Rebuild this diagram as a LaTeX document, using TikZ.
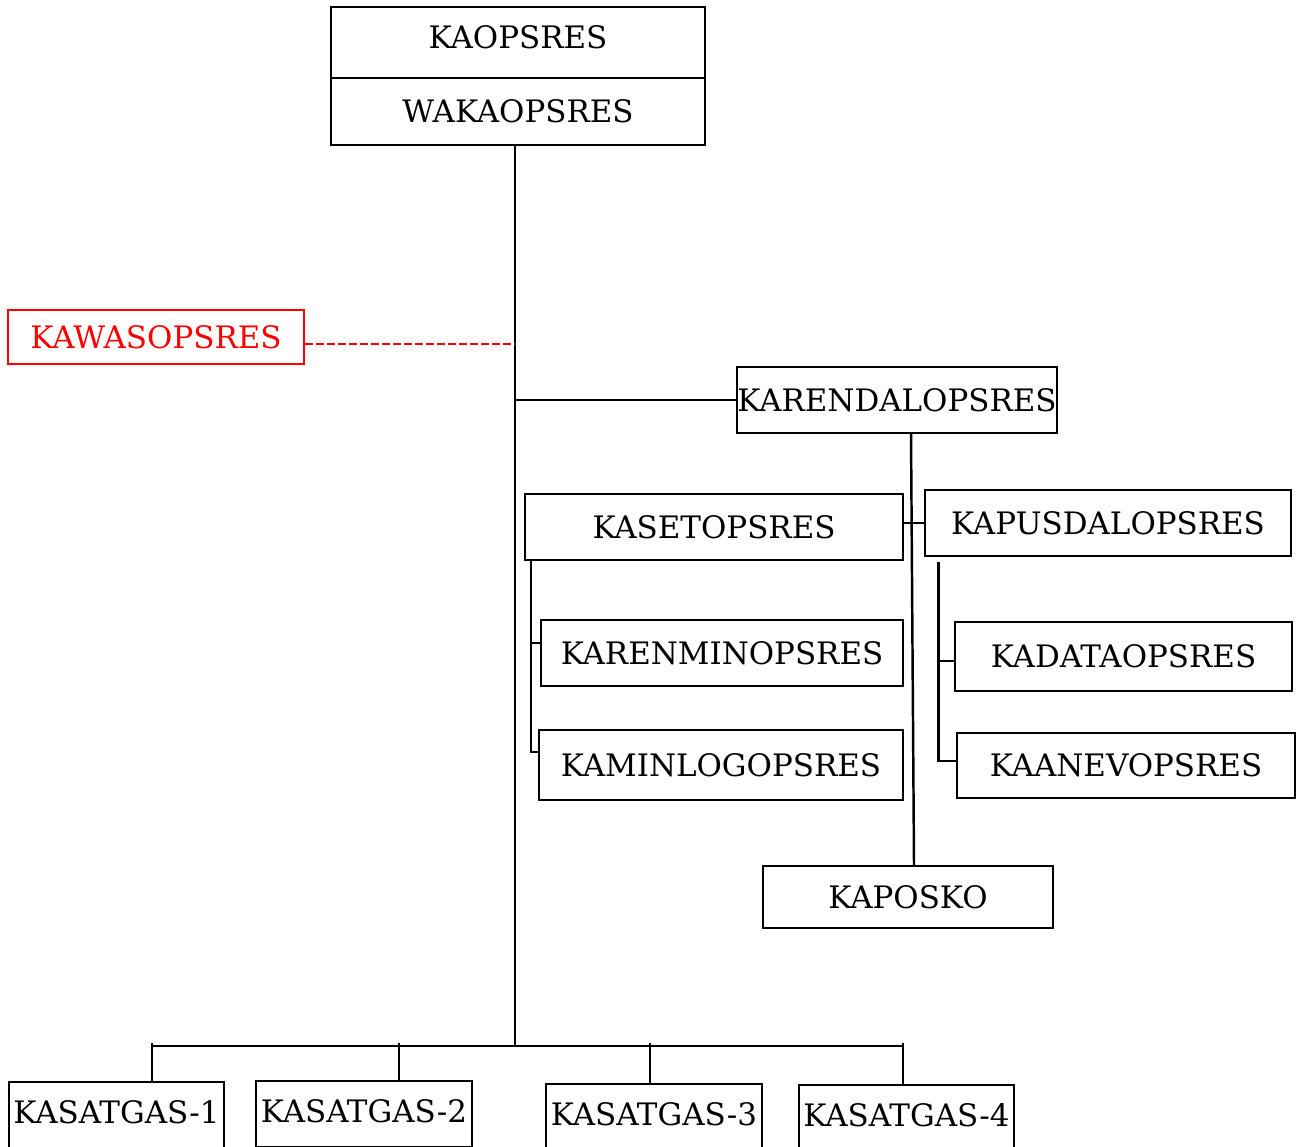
\documentclass[tikz,border=0pt]{standalone}
\usepackage{fontspec}
\usepackage{tikz}
\usepackage{xcolor}
\setmainfont{DejaVu Serif}
\definecolor{warnred}{RGB}{255, 0, 0}

\begin{document}
\begin{tikzpicture}[line width = 0.7pt,
  box/.style = {draw, line width = 0.45pt, inner sep = 0pt, font = \fontsize{8.8}{10}\selectfont},
  redbox/.style = {box, draw = warnred, text = warnred},
  dashline/.style = {warnred, dash pattern = on 0.8mm off 0.3mm}]
\useasboundingbox (0,0) rectangle (13,-11.47);
% head of the tree
\node[box, minimum width = 3.74cm, minimum height = 0.71cm, text depth = 0.1cm] (kaopsres) at (5.18,-0.425) {KAOPSRES};
\node[box, minimum width = 3.74cm, minimum height = 0.67cm] (wakaopsres) at (5.18,-1.115) {WAKAOPSRES};
\node[redbox, minimum width = 2.96cm, minimum height = 0.54cm] (kawasopsres) at (1.56,-3.37) {KAWASOPSRES};
% middle branch
\node[box, minimum width = 3.20cm, minimum height = 0.66cm] (karendalopsres) at (8.97,-4.00) {KARENDALOPSRES};
\node[box, minimum width = 3.78cm, minimum height = 0.66cm] (kasetopsres) at (7.14,-5.27) {KASETOPSRES};
\node[box, minimum width = 3.66cm, minimum height = 0.66cm] (kapusdalopsres) at (11.08,-5.23) {KAPUSDALOPSRES};
\node[box, minimum width = 3.62cm, minimum height = 0.66cm] (karenminopsres) at (7.22,-6.53) {KARENMINOPSRES};
\node[box, minimum width = 3.64cm, minimum height = 0.70cm] (kaminlogopsres) at (7.21,-7.65) {KAMINLOGOPSRES};
\node[box, minimum width = 3.37cm, minimum height = 0.69cm] (kadataopsres) at (11.235,-6.565) {KADATAOPSRES};
\node[box, minimum width = 3.38cm, minimum height = 0.65cm] (kaanevopsres) at (11.26,-7.655) {KAANEVOPSRES};
\node[box, minimum width = 2.90cm, minimum height = 0.62cm] (kaposko) at (9.08,-8.97) {KAPOSKO};
% bottom row
\node[box, minimum width = 2.15cm, minimum height = 0.66cm, text depth = 0.06cm] (kasatgas1) at (1.165,-11.15) {KASATGAS-1};
\node[box, minimum width = 2.16cm, minimum height = 0.66cm, text depth = 0.06cm] (kasatgas2) at (3.64,-11.14) {KASATGAS-2};
\node[box, minimum width = 2.16cm, minimum height = 0.66cm, text depth = 0.06cm] (kasatgas3) at (6.54,-11.17) {KASATGAS-3};
\node[box, minimum width = 2.15cm, minimum height = 0.66cm, text depth = 0.06cm] (kasatgas4) at (9.065,-11.18) {KASATGAS-4};
% connectors
\coordinate (bus) at (5.15,-10.46);
\draw (wakaopsres.south -| bus) -- (bus);
\draw[dashline] ([yshift = -0.7mm]kawasopsres.east) -- ([yshift = -0.7mm]kawasopsres.east -| bus);
\draw (karendalopsres.west) -- (karendalopsres.west -| bus);
\draw ([xshift = 1.4mm]karendalopsres.south) -- ([xshift = 0.6mm]kaposko.north);
\draw (kasetopsres.east |- kapusdalopsres.west) -- (kapusdalopsres.west);
\coordinate (setroot) at (5.31,-5.59);
\draw (setroot) |- ([yshift = 1.3mm]kaminlogopsres.west);
\draw (setroot |- 0,-6.43) -- (karenminopsres.west |- 0,-6.43);
\coordinate (pusroot) at (9.385,-5.62);
\draw (pusroot) |- ([yshift = 0.45mm]kaanevopsres.west);
\draw (pusroot |- 0,-6.61) -- (kadataopsres.west |- 0,-6.61);
\draw (1.52,-10.46) -- (9.03,-10.46);
\foreach \i/\x in {1/1.52, 2/3.99, 3/6.50, 4/9.03}
  \draw (\x,-10.43) -- (kasatgas\i.north -| \x,0);
\end{tikzpicture}
\end{document}
